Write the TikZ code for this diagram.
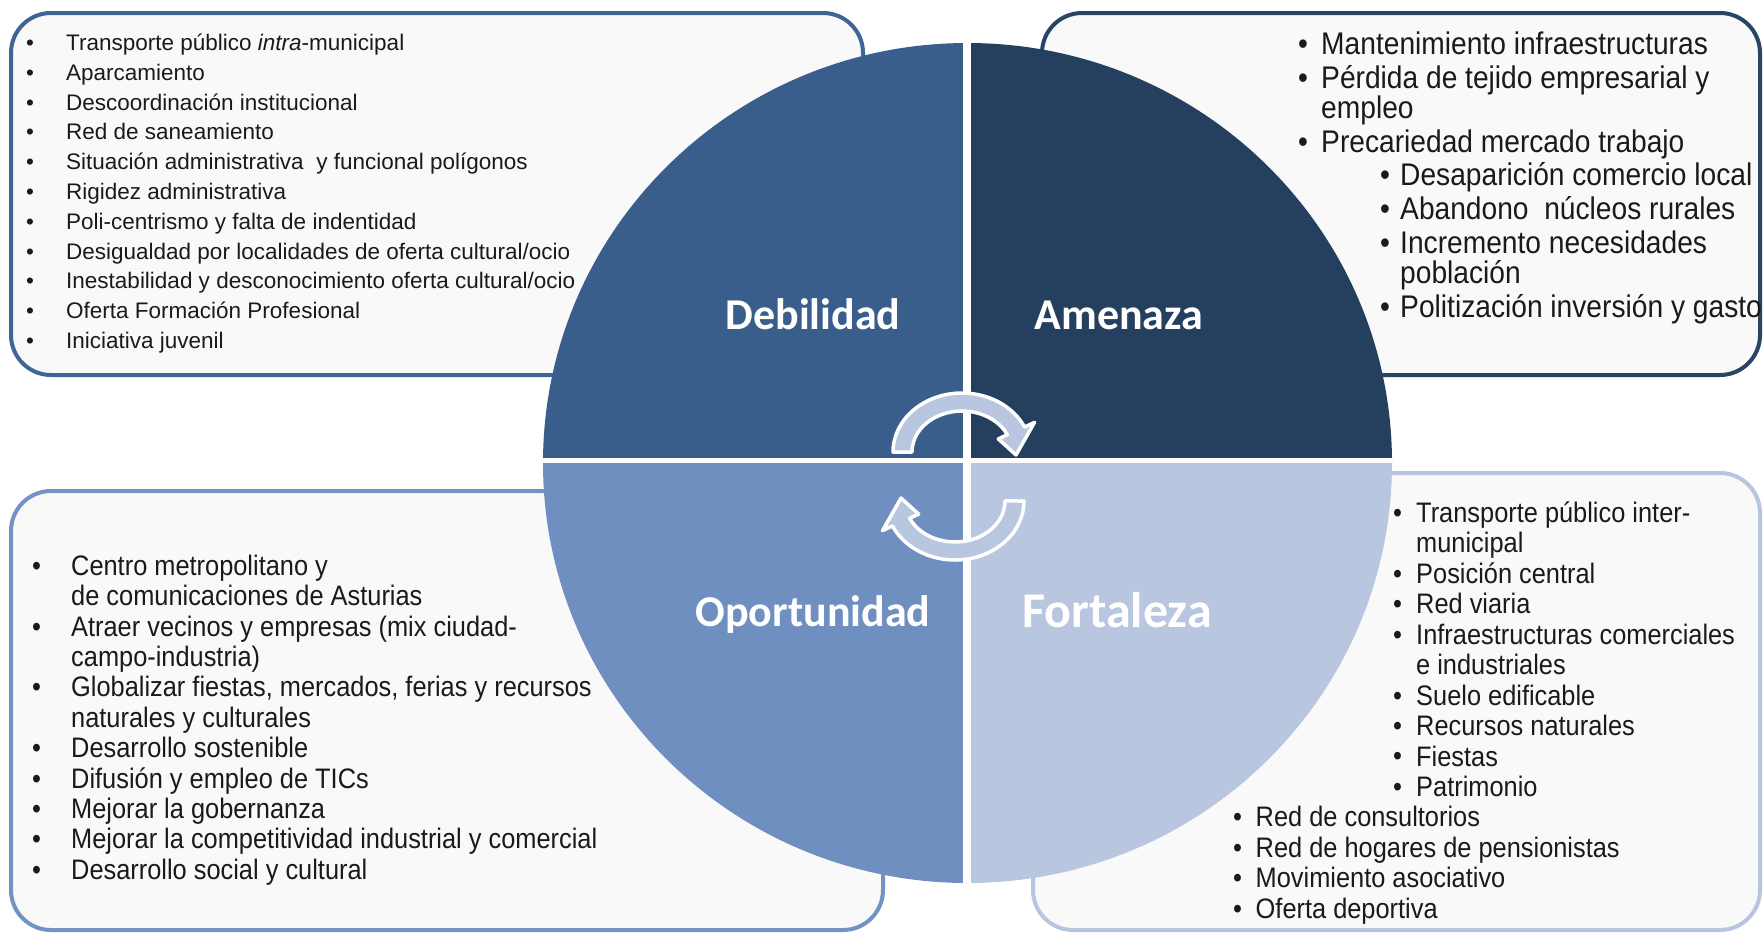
\documentclass[tikz,border=0pt]{standalone}
\usepackage{fontspec}
\setmainfont{Liberation Sans}
\newfontfamily\bodyfont{Liberation Sans}
\newfontfamily\narrowfont[FakeStretch=0.9]{Liberation Sans}
\newfontfamily\titlefont{Carlito}
\definecolor{qD}{HTML}{3A5E8C}
\definecolor{qA}{HTML}{253F5F}
\definecolor{qO}{HTML}{6F8FC0}
\definecolor{qF}{HTML}{B9C6E0}
\definecolor{bD}{HTML}{3E6595}
\definecolor{bA}{HTML}{294566}
\definecolor{bO}{HTML}{7393C5}
\definecolor{bF}{HTML}{B7C5E1}
\definecolor{boxfill}{HTML}{F9F9F9}
\definecolor{arrowfill}{HTML}{B9C6E0}
\definecolor{txt}{HTML}{1A1A1A}
\tikzset{
  dtx/.style={font=\bodyfont\fontsize{22.5}{27}\selectfont, text=txt, inner sep=0pt, anchor=base west},
  atx/.style={font=\narrowfont\fontsize{31.3}{36}\selectfont, text=txt, inner sep=0pt, anchor=base west},
  ftx/.style={font=\narrowfont\fontsize{28.2}{33}\selectfont, text=txt, inner sep=0pt, anchor=base west},
  lbl/.style={font=\titlefont\bfseries\fontsize{44}{50}\selectfont, text=white, inner sep=0pt, anchor=base},
  swotbox/.style={rounded corners=40pt, line width=4pt, fill=boxfill},
  cyc/.style={fill=arrowfill, draw=white, line width=3.5pt, line join=round},
  cycarrow/.pic={
    \path[cyc] (-69,0) arc[start angle=-180, end angle=-25, x radius=69, y radius=59]
      -- (72.5,-29.6) -- (54,3) -- (36.3,-13.1) -- (45.3,-17.3)
      arc[start angle=-25, end angle=-180, x radius=50, y radius=41] -- cycle;
  }
}
\begin{document}
\begin{tikzpicture}[x=1pt,y=-1pt]
\useasboundingbox (0,0) rectangle (1764,935);
\fill[white] (0,0) rectangle (1764,935);
% boxes
\draw[swotbox, draw=bD] (11,13) rectangle (863,375);
\draw[swotbox, draw=bA] (1042,13) rectangle (1760,375);
\draw[swotbox, draw=bO] (11,491) rectangle (883,930);
\draw[swotbox, draw=bF] (1033,473) rectangle (1760,930);
% circle quadrants
\begin{scope}
  \clip (967.5,463) ellipse [x radius=424.5, y radius=420];
  \fill[qD] (500,0) rectangle (967,460.5);
  \fill[qA] (967,0) rectangle (1450,460.5);
  \fill[qO] (500,460.5) rectangle (967,935);
  \fill[qF] (967,460.5) rectangle (1450,935);
  \draw[white, line width=8pt] (967,0) -- (967,935);
  \draw[white, line width=5.5pt] (500,460.5) -- (1450,460.5);
\end{scope}
% cycle arrows
\pic at (962,452) {cycarrow};
\pic[rotate=180] at (955,501) {cycarrow};
% labels
\node[lbl] (lD) at (813,329) {Debilidad};
\node[lbl] (lA) at (1119,329) {Amenaza};
\node[lbl] (lO) at (813,626) {Oportunidad};
\node[lbl, font=\titlefont\bfseries\fontsize{50}{56}\selectfont] (lF) at (1117,627) {Fortaleza};
% Debilidad text
\foreach \i in {1,...,11}
  \node[dtx] (db\i) at (26,{50.5+29.8*(\i-1)}) {\textbullet};
\node[dtx] (dt1) at (66,50.5) {Transporte público \textit{intra}-municipal};
\node[dtx] (dt2) at (66,80.3) {Aparcamiento};
\node[dtx] (dt3) at (66,110.1) {Descoordinación institucional};
\node[dtx] (dt4) at (66,139.9) {Red de saneamiento};
\node[dtx] (dt5) at (66,169.7) {Situación administrativa \ y funcional polígonos};
\node[dtx] (dt6) at (66,199.5) {Rigidez administrativa};
\node[dtx] (dt7) at (66,229.3) {Poli-centrismo y falta de indentidad};
\node[dtx] (dt8) at (66,259.1) {Desigualdad por localidades de oferta cultural/ocio};
\node[dtx] (dt9) at (66,288.9) {Inestabilidad y desconocimiento oferta cultural/ocio};
\node[dtx] (dt10) at (66,318.7) {Oferta Formación Profesional};
\node[dtx] (dt11) at (66,348.5) {Iniciativa juvenil};
% Amenaza text
\node[atx] (ab1) at (1298,54) {\textbullet};
\node[atx] (ab2) at (1298,88) {\textbullet};
\node[atx] (ab3) at (1298,152) {\textbullet};
\node[atx] (ab4) at (1380,185.5) {\textbullet};
\node[atx] (ab5) at (1380,219) {\textbullet};
\node[atx] (ab6) at (1380,253) {\textbullet};
\node[atx] (ab7) at (1380,317) {\textbullet};
\node[atx] (at1) at (1321,54) {Mantenimiento infraestructuras};
\node[atx] (at2) at (1321,88) {Pérdida de tejido empresarial y};
\node[atx] (at2b) at (1321,118) {empleo};
\node[atx] (at3) at (1321,152) {Precariedad mercado trabajo};
\node[atx] (at4) at (1400,185.5) {Desaparición comercio local};
\node[atx] (at5) at (1400,219) {Abandono \ núcleos rurales};
\node[atx] (at6) at (1400,253) {Incremento necesidades};
\node[atx] (at6b) at (1400,283) {población};
\node[atx] (at7) at (1400,317) {Politización inversión y gasto};
% Fortaleza text
\foreach \k in {0,2,3,4,6,7,8,9}
  \node[ftx] (fb\k) at (1393,{522.3+30.46*\k}) {\textbullet};
\foreach \k in {10,11,12,13}
  \node[ftx] (fb\k) at (1233,{522.3+30.46*\k}) {\textbullet};
\node[ftx] (ft0) at (1416,522.3) {Transporte público inter-};
\node[ftx] (ft1) at (1416,552.8) {municipal};
\node[ftx] (ft2) at (1416,583.2) {Posición central};
\node[ftx] (ft3) at (1416,613.7) {Red viaria};
\node[ftx] (ft4) at (1416,644.1) {Infraestructuras comerciales};
\node[ftx] (ft5) at (1416,674.6) {e industriales};
\node[ftx] (ft6) at (1416,705.1) {Suelo edificable};
\node[ftx] (ft7) at (1416,735.5) {Recursos naturales};
\node[ftx] (ft8) at (1416,766.0) {Fiestas};
\node[ftx] (ft9) at (1416,796.4) {Patrimonio};
\node[ftx] (ft10) at (1255.5,826.9) {Red de consultorios};
\node[ftx] (ft11) at (1255.5,857.4) {Red de hogares de pensionistas};
\node[ftx] (ft12) at (1255.5,887.8) {Movimiento asociativo};
\node[ftx] (ft13) at (1255.5,918.3) {Oferta deportiva};
% Oportunidad text
\foreach \k in {0,2,4,6,7,8,9,10}
  \node[ftx] (ob\k) at (32,{575.3+30.4*\k}) {\textbullet};
\node[ftx] (ot0) at (71,575.3) {Centro metropolitano y};
\node[ftx] (ot1) at (71,605.7) {de comunicaciones de Asturias};
\node[ftx] (ot2) at (71,636.1) {Atraer vecinos y empresas (mix ciudad-};
\node[ftx] (ot3) at (71,666.5) {campo-industria)};
\node[ftx] (ot4) at (71,696.9) {Globalizar fiestas, mercados, ferias y recursos};
\node[ftx] (ot5) at (71,727.3) {naturales y culturales};
\node[ftx] (ot6) at (71,757.7) {Desarrollo sostenible};
\node[ftx] (ot7) at (71,788.1) {Difusión y empleo de TICs};
\node[ftx] (ot8) at (71,818.5) {Mejorar la gobernanza};
\node[ftx] (ot9) at (71,848.9) {Mejorar la competitividad industrial y comercial};
\node[ftx] (ot10) at (71,879.3) {Desarrollo social y cultural};
\end{tikzpicture}
\end{document}
